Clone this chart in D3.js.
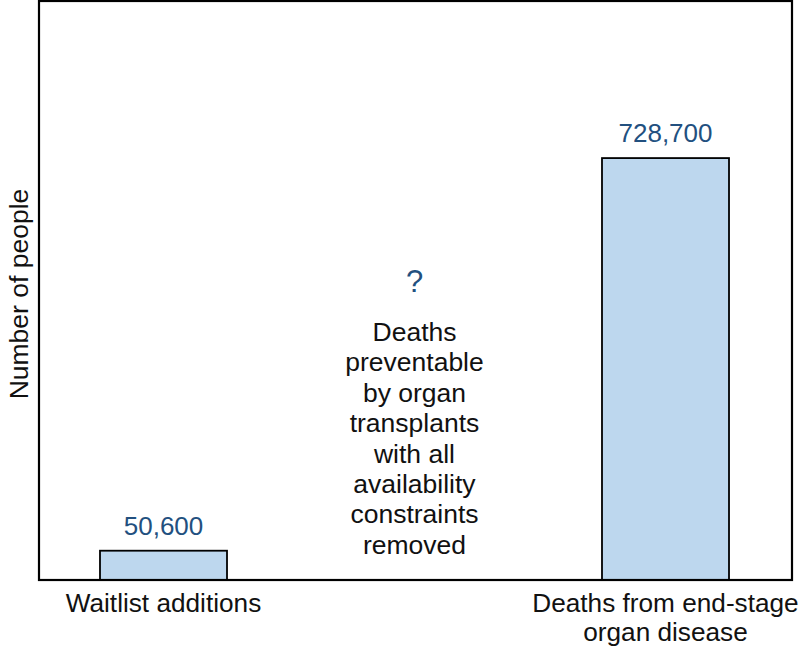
<!DOCTYPE html>
<html>
<head>
<meta charset="utf-8">
<script src="https://cdn.jsdelivr.net/npm/d3@7"></script>
<style>
  body { margin: 0; background: #fff; }
  text { font-family: "Liberation Sans", Arial, Helvetica, sans-serif; }
</style>
</head>
<body>
<div id="chart"></div>
<script>
// data
var categories = ["waitlist", "preventable", "deaths"];
var catLabels = [["Waitlist additions"], [], ["Deaths from end-stage", "organ disease"]];
var values = [50600, null, 728700];
var valueLabels = ["50,600", "?", "728,700"];
var middleText = ["Deaths", "preventable", "by organ", "transplants", "with all", "availability", "constraints", "removed"];

var svgWidth = 800;
var svgHeight = 650;

var frame = {left: 39, right: 792, top: 1, bottom: 580};

var svg = d3.select("#chart")
    .append("svg")
    .attr("width", svgWidth)
    .attr("height", svgHeight);

var xScale = d3.scaleBand()
    .domain(categories)
    .range([frame.left - 1, frame.right - 1])
    .paddingInner(0.494)
    .paddingOuter(0.247);

var yScale = d3.scaleLinear()
    .domain([0, 1000000])
    .range([frame.bottom, frame.top]);

var blue = "#22507f";

// bars
svg.selectAll("rect.bar")
    .data(values.map((v, i) => ({v: v, c: categories[i]})).filter(d => d.v != null))
    .enter()
    .append("rect")
    .attr("class", "bar")
    .attr("x", d => xScale(d.c))
    .attr("y", d => yScale(d.v))
    .attr("width", xScale.bandwidth())
    .attr("height", d => yScale(0) - yScale(d.v))
    .attr("fill", "#bdd7ee")
    .attr("stroke", "#000")
    .attr("stroke-width", 1.8);

// frame
svg.append("rect")
    .attr("x", frame.left)
    .attr("y", frame.top)
    .attr("width", frame.right - frame.left)
    .attr("height", frame.bottom - frame.top)
    .attr("fill", "none")
    .attr("stroke", "#000")
    .attr("stroke-width", 2.2);

// value labels
values.forEach(function(v, i) {
    var cx = xScale(categories[i]) + xScale.bandwidth() / 2;
    if (v != null) {
        svg.append("text")
            .attr("x", cx)
            .attr("y", yScale(v) - 16)
            .attr("text-anchor", "middle")
            .attr("font-size", 26)
            .attr("fill", blue)
            .text(valueLabels[i]);
    } else {
        svg.append("text")
            .attr("x", cx)
            .attr("y", 292)
            .attr("text-anchor", "middle")
            .attr("font-size", 31)
            .attr("fill", blue)
            .text(valueLabels[i]);
        svg.append("text")
            .attr("x", cx)
            .attr("y", 341)
            .attr("text-anchor", "middle")
            .attr("font-size", 26.5)
            .attr("fill", "#111")
            .selectAll("tspan")
            .data(middleText)
            .enter()
            .append("tspan")
            .attr("x", cx)
            .attr("dy", (d, j) => j === 0 ? 0 : 30.4)
            .text(d => d);
    }
});

// category labels
categories.forEach(function(c, i) {
    var cx = xScale(c) + xScale.bandwidth() / 2;
    svg.append("text")
        .attr("x", cx)
        .attr("y", 612)
        .attr("text-anchor", "middle")
        .attr("font-size", 26.2)
        .attr("fill", "#111")
        .selectAll("tspan")
        .data(catLabels[i])
        .enter()
        .append("tspan")
        .attr("x", cx)
        .attr("dy", (d, j) => j === 0 ? 0 : 29)
        .text(d => d);
});

// y axis label
svg.append("text")
    .attr("transform", "rotate(-90)")
    .attr("x", -294)
    .attr("y", 28)
    .attr("text-anchor", "middle")
    .attr("font-size", 26.5)
    .attr("fill", "#111")
    .text("Number of people");
</script>
</body>
</html>
